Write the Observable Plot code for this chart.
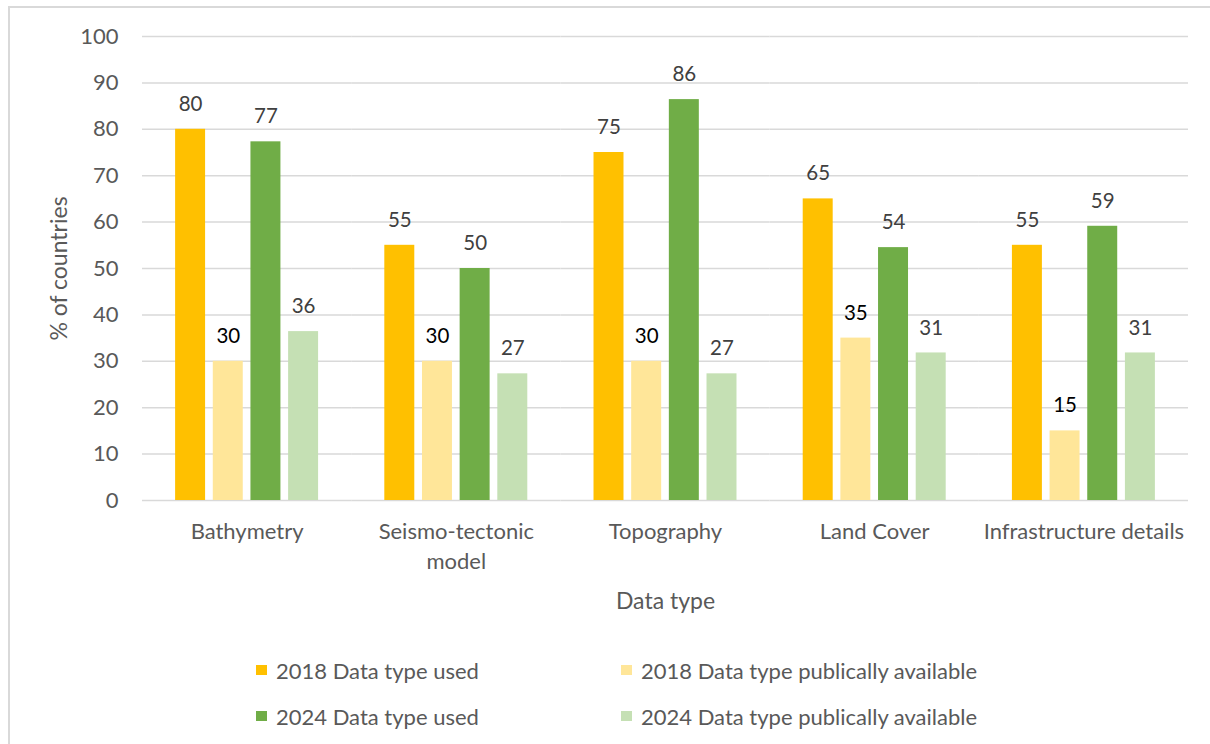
<!DOCTYPE html>
<html><head><meta charset="utf-8">
<script src="https://cdn.jsdelivr.net/npm/d3@7"></script>
<script src="https://cdn.jsdelivr.net/npm/@observablehq/plot@0.6"></script>
<style>
body{margin:0;background:#fff;font-family:Lato,sans-serif;width:1210px;height:744px;overflow:hidden;position:relative}
#frame{position:absolute;left:8px;top:6px;width:1230px;height:780px;border:2px solid #d9d9d9;box-sizing:border-box}
#chart{position:absolute;left:0;top:0}
#legend{position:absolute;left:256px;top:647px;display:grid;grid-template-columns:365px auto;grid-auto-rows:46px;font-size:22px;color:#595959}
.item{display:flex;align-items:center;white-space:nowrap}
.sw{width:11px;height:10px;margin-right:9px;flex:none}
</style></head>
<body>
<div id="frame"></div>
<div id="chart"></div>
<div id="legend"></div>
<script>
const categories = ["Bathymetry","Seismo-tectonic model","Topography","Land Cover","Infrastructure details"];
const series = ["2018 Data type used","2018 Data type publically available","2024 Data type used","2024 Data type publically available"];
const used2018 = [80,55,75,65,55];
const public2018 = [30,30,30,35,15];
const used2024 = [77.3,50,86.4,54.5,59.1];
const public2024 = [36.4,27.3,27.3,31.8,31.8];
const labelsUsed2018 = ["80","55","75","65","55"];
const labelsPublic2018 = ["30","30","30","35","15"];
const labelsUsed2024 = ["77","50","86","54","59"];
const labelsPublic2024 = ["36","27","27","31","31"];
const colors = ["#FFC000","#FFE699","#70AD47","#C5E0B4"];
const yTicks = [0,10,20,30,40,50,60,70,80,90,100];
const tickText = {"Seismo-tectonic model":"Seismo-tectonic\nmodel"};

const valueSets = [used2018, public2018, used2024, public2024];
const labelSets = [labelsUsed2018, labelsPublic2018, labelsUsed2024, labelsPublic2024];
const rows = [];
categories.forEach((c,i)=>series.forEach((s,j)=>rows.push({category:c, series:s, value:valueSets[j][i], label:labelSets[j][i]})));

const chart = Plot.plot({
  width:1210, height:640,
  marginLeft:142, marginRight:22, marginTop:36, marginBottom:140,
  style:{fontFamily:"Lato, sans-serif", fontSize:"22px", color:"#595959", background:"transparent"},
  fx:{domain:categories, padding:0, round:false, label:null},
  x:{domain:series, paddingInner:0.204, paddingOuter:0.879, round:false, axis:null},
  y:{domain:[0,100], label:null},
  color:{domain:series, range:colors},
  marks:[
    Plot.gridY(yTicks,{stroke:"#d9d9d9", strokeOpacity:1, strokeWidth:1.5}),
    Plot.barY(rows,{fx:"category", x:"series", y:"value", fill:"series"}),
    Plot.text(rows.filter(d=>d.series!==series[1]),{fx:"category", x:"series", y:"value", text:"label", dy:-25, fill:"#404040", fontSize:20.5}),
    Plot.text(rows.filter(d=>d.series===series[1]),{fx:"category", x:"series", y:"value", text:"label", dy:-25, fill:"#000", fontSize:20.5}),
    Plot.axisY(yTicks,{tickSize:0, tickPadding:24, fontSize:22, fill:"#595959", label:null}),
    Plot.axisY([],{tickSize:0, fontSize:23, fill:"#595959", label:"% of countries", labelArrow:"none", labelAnchor:"center", labelOffset:92}),
    Plot.axisFx({anchor:"bottom", tickSize:0, tickPadding:17, fontSize:22, lineHeight:1.36, fill:"#595959", tickFormat:d=>tickText[d]||d, label:null}),
    Plot.axisFx([],{anchor:"bottom", tickSize:0, fontSize:23, fill:"#595959", label:"Data type", labelArrow:"none", labelAnchor:"center", labelOffset:108})
  ]
});
document.getElementById("chart").appendChild(chart);

const legend = document.getElementById("legend");
[0,1,2,3].forEach(j=>{
  const it = document.createElement("div"); it.className="item";
  const sw = document.createElement("span"); sw.className="sw"; sw.style.background=colors[j];
  const tx = document.createElement("span"); tx.textContent=series[j];
  it.appendChild(sw); it.appendChild(tx); legend.appendChild(it);
});
</script>
</body></html>
